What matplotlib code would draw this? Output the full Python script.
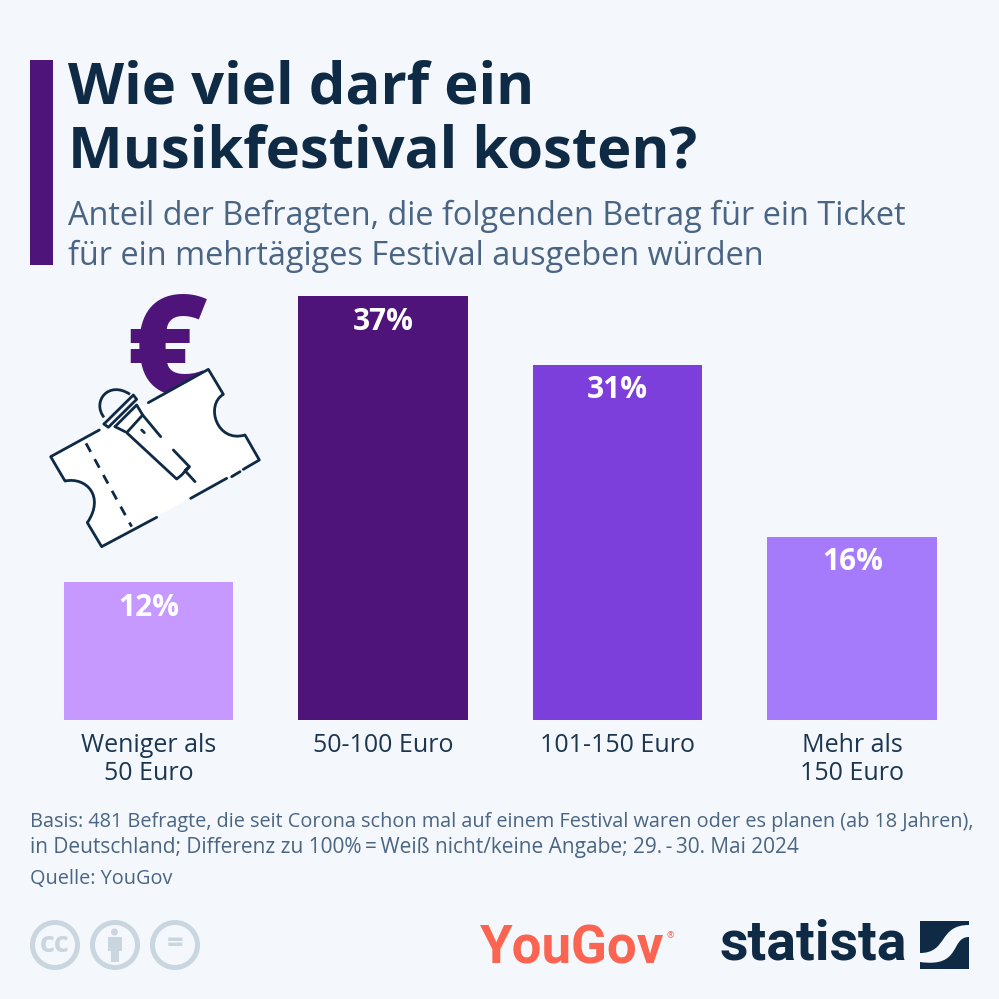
import numpy as np
import matplotlib.pyplot as plt
from matplotlib.path import Path
from matplotlib.patches import PathPatch, Circle, Rectangle

categories = ["Weniger als\n50 Euro", "50-100 Euro", "101-150 Euro", "Mehr als\n150 Euro"]
shares = [12, 37, 31, 16]
bar_colors = ["#c599ff", "#4e147a", "#7d3fdb", "#a67bfb"]

title = "Wie viel darf ein\nMusikfestival kosten?"
subtitle = "Anteil der Befragten, die folgenden Betrag für ein Ticket\nfür ein mehrtägiges Festival ausgeben würden"
basis = ("Basis: 481 Befragte, die seit Corona schon mal auf einem Festival waren oder es planen (ab 18 Jahren),\n"
         "in Deutschland; Differenz zu 100%\u2009=\u2009Weiß nicht/keine Angabe; 29.\u2009-\u200930. Mai 2024")
source = "Quelle: YouGov"

bg = "#f4f7fb"
navy = "#0f2a45"
slate = "#4a6583"
grey = "#c9d6df"

plt.rcParams["font.family"] = ["Open Sans", "DejaVu Sans"]

plt.figure(figsize=(9.99, 9.99), dpi=100, facecolor=bg)

# whole canvas in pixels, y pointing down
plt.axes([0, 0, 1, 1])
plt.xlim(0, 999)
plt.ylim(999, 0)
plt.axis("off")
ax = plt.gca()

ax.add_patch(Rectangle((30, 60), 23, 205, color="#4e147a", lw=0))
plt.text(68, 89, title.split("\n")[0], fontsize=41.8, fontweight="bold", color=navy, va="center")
plt.text(68, 153, title.split("\n")[1], fontsize=41.8, fontweight="bold", color=navy, va="center")
plt.text(68, 216, subtitle.split("\n")[0], fontsize=23.45, color=slate, va="center")
plt.text(68, 256, subtitle.split("\n")[1], fontsize=23.45, color=slate, va="center")

plt.text(30, 822, basis.split("\n")[0], fontsize=14.27, color=slate, va="center")
plt.text(30, 848, basis.split("\n")[1], fontsize=15, color=slate, va="center")
plt.text(30, 879, source, fontsize=14.27, color=slate, va="center")

# euro sign behind the ticket
plt.text(167, 359, "€", fontsize=100, fontweight="heavy", color="#4e147a",
         ha="center", va="center", zorder=2)

# ticket, points taken from the zoomed crop
def px(x, y):
    return (30 + x / 3, 280 + y / 3)

verts = [px(62, 530), px(235, 435), px(535, 268), px(580, 343),
         px(525, 375), px(560, 490), px(645, 465), px(688, 540),
         px(215, 800), px(172, 728), px(225, 650), px(170, 590), px(105, 603), px(62, 530)]
codes = [Path.MOVETO, Path.LINETO, Path.LINETO, Path.LINETO,
         Path.CURVE4, Path.CURVE4, Path.CURVE4, Path.LINETO,
         Path.LINETO, Path.LINETO, Path.CURVE4, Path.CURVE4, Path.CURVE4, Path.CLOSEPOLY]
ax.add_patch(PathPatch(Path(verts, codes), facecolor="white", edgecolor="none", zorder=3))

outline = [
    ([355, 535, 580], [368, 268, 343]),
    ([645, 688, 640], [465, 540, 568]),
    ([630, 605], [575, 590]),
    ([590, 482], [595, 655]),
    ([380, 215, 172], [712, 800, 728]),
    ([105, 62, 208], [603, 530, 450]),
    ([392, 338, 290, 440, 455, 478, 465, 495], [470, 405, 458, 597, 585, 560, 572, 605]),
    ([430, 478], [510, 560]),
    ([222, 310, 320, 235, 222], [432, 345, 358, 442, 432]),
    ([255, 320, 338], [440, 375, 405]),
    ([255, 285], [440, 455]),
    ([335, 343], [450, 458]),
]
for xs, ys in outline:
    plt.plot(30 + np.array(xs) / 3, 280 + np.array(ys) / 3, color=navy, lw=2, solid_capstyle="round",
             solid_joinstyle="round", zorder=4)

curves = [
    [px(580, 343), px(525, 375), px(560, 490), px(645, 465)],
    [px(172, 728), px(225, 650), px(170, 590), px(105, 603)],
    [px(222, 412), px(185, 365), px(235, 300), px(300, 343)],
]
for c in curves:
    ax.add_patch(PathPatch(Path(c, [Path.MOVETO, Path.CURVE4, Path.CURVE4, Path.CURVE4]),
                           facecolor="none", edgecolor=navy, lw=2, zorder=4))

plt.plot(30 + np.array([168, 305]) / 3, 280 + np.array([490, 740]) / 3, color=navy, lw=2,
         linestyle=(0, (3.5, 3)), zorder=4)

# licence icons
for cx, label in zip([55, 115, 175], ["cc", "", "="]):
    ax.add_patch(Circle((cx, 945), 22.5, facecolor="none", edgecolor=grey, lw=3.6))
    if label:
        plt.text(cx, 944, label, fontsize=21, fontweight="bold", color=grey, ha="center", va="center")
ax.add_patch(Circle((114.5, 932), 3.5, color=grey, lw=0))
ax.add_patch(Rectangle((107.5, 937), 14, 14, color=grey, lw=0))
ax.add_patch(Rectangle((110.5, 950), 8, 12, color=grey, lw=0))

# logos
plt.text(572, 949, "YouGov", fontsize=38, fontweight="bold", color="#fa6450", ha="center", va="center",
         family=["Roboto"])
plt.text(670, 936, "®", fontsize=6.5, color="#fa6450", ha="center", va="center")
plt.text(813, 945, "statista", fontsize=40, fontweight="bold", color=navy, ha="center", va="center",
         family=["Roboto"])
ax.add_patch(Rectangle((920, 921), 49, 48, color=navy, lw=0))
swoosh = [(920, 953), (948, 953), (938, 925), (969, 925), (969, 937), (950, 937), (962, 968), (920, 962), (920, 953)]
ax.add_patch(PathPatch(Path(swoosh, [Path.MOVETO, Path.CURVE4, Path.CURVE4, Path.CURVE4,
                                     Path.LINETO, Path.CURVE4, Path.CURVE4, Path.CURVE4, Path.CLOSEPOLY]),
                       facecolor=bg, edgecolor="none"))

# bars on their own axes, bottom at y=720 and 37% at y=296
plt.axes([31.25 / 999, (999 - 720) / 999, 938.25 / 999, 424 / 999])
plt.gca().patch.set_alpha(0)
x = np.arange(len(categories))
plt.bar(x, shares, width=0.723, color=bar_colors)
plt.xlim(-0.5, 3.5)
plt.ylim(0, 37)
for i, v in enumerate(shares):
    plt.annotate(f"{v}%", (i, v), xytext=(0, -18.5), textcoords="offset points", ha="center", va="center",
                 fontsize=21.5, fontweight="bold", color="white")
plt.xticks(x, categories, fontsize=18, color="#1c3650", linespacing=1.2)
plt.yticks([])
plt.tick_params(axis="x", length=0, pad=9)
for s in plt.gca().spines.values():
    s.set_visible(False)

plt.savefig("out.png", dpi=100, facecolor=bg)
print("Saved to: out.png")
